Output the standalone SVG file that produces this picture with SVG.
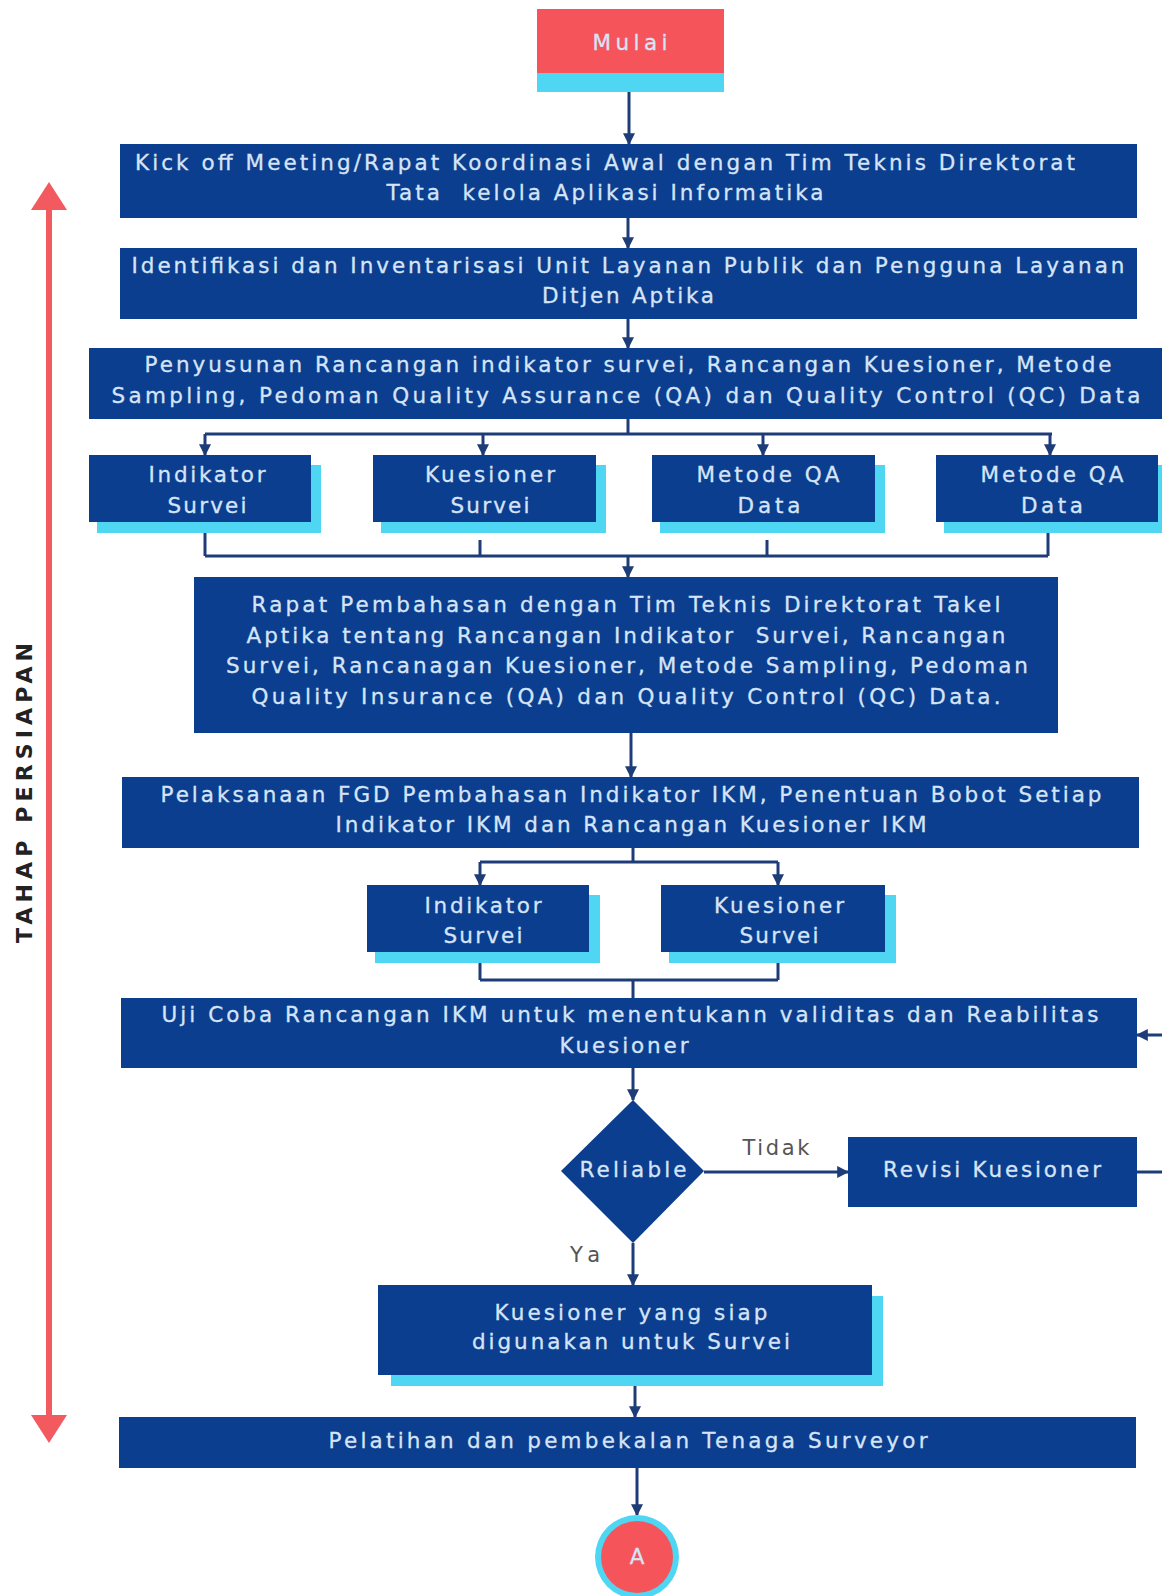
<svg xmlns="http://www.w3.org/2000/svg" width="1162" height="1596" viewBox="0 0 1162 1596">
  <defs>
    <marker id="arr" viewBox="0 0 10 10" refX="9" refY="5" markerWidth="4" markerHeight="4" orient="auto" markerUnits="strokeWidth">
      <path d="M0,0 L10,5 L0,10 Z" fill="#1d3c78"/>
    </marker>
    <style>
      .box { fill: #0b3e8e; }
      .sh { fill: #4fd6f2; }
      .t { font-family: "DejaVu Sans", "Liberation Sans", sans-serif; font-size: 21.5px; fill: #d6e4f8; text-anchor: middle; stroke: #d6e4f8; stroke-width: 0.3; }
      .lbl { font-family: "DejaVu Sans", "Liberation Sans", sans-serif; font-size: 21px; fill: #555; text-anchor: middle; }
      .c { fill: none; stroke: #1d3c78; stroke-width: 3; }
      .ca { fill: none; stroke: #1d3c78; stroke-width: 3; marker-end: url(#arr); }
    </style>
  </defs>
  <rect width="1162" height="1596" fill="#ffffff"/>

  <!-- phase bracket -->
  <g id="phase">
    <line x1="49" y1="200" x2="49" y2="1425" stroke="#f25a5f" stroke-width="6"/>
    <polygon points="49,182 31,210 67,210" fill="#f25a5f"/>
    <polygon points="49,1443 31,1415 67,1415" fill="#f25a5f"/>
    <text transform="translate(32,793) rotate(-90)" font-family="DejaVu Sans, Liberation Sans, sans-serif" font-size="22" font-weight="700" fill="#222" text-anchor="middle" textLength="300" lengthAdjust="spacing">TAHAP PERSIAPAN</text>
  </g>

  <!-- connectors -->
  <g id="connectors">
    <line class="ca" x1="629" y1="92" x2="629" y2="144"/>
    <line class="ca" x1="628" y1="218" x2="628" y2="248"/>
    <line class="ca" x1="628" y1="319" x2="628" y2="348"/>
    <line class="c" x1="628" y1="419" x2="628" y2="434"/>
    <line class="c" x1="205" y1="434" x2="1052" y2="434"/>
    <line class="ca" x1="205" y1="434" x2="205" y2="455"/>
    <line class="ca" x1="483" y1="434" x2="483" y2="455"/>
    <line class="ca" x1="763" y1="434" x2="763" y2="455"/>
    <line class="ca" x1="1050" y1="434" x2="1050" y2="455"/>
    <line class="c" x1="205" y1="533" x2="205" y2="556"/>
    <line class="c" x1="480" y1="540" x2="480" y2="556"/>
    <line class="c" x1="767" y1="540" x2="767" y2="556"/>
    <line class="c" x1="1048" y1="533" x2="1048" y2="556"/>
    <line class="c" x1="205" y1="556" x2="1048" y2="556"/>
    <line class="ca" x1="628" y1="556" x2="628" y2="577"/>
    <line class="ca" x1="631" y1="733" x2="631" y2="777"/>
    <line class="c" x1="633" y1="848" x2="633" y2="862"/>
    <line class="c" x1="480" y1="862" x2="778" y2="862"/>
    <line class="ca" x1="480" y1="862" x2="480" y2="885"/>
    <line class="ca" x1="778" y1="862" x2="778" y2="885"/>
    <line class="c" x1="480" y1="963" x2="480" y2="980"/>
    <line class="c" x1="778" y1="963" x2="778" y2="980"/>
    <line class="c" x1="480" y1="980" x2="778" y2="980"/>
    <line class="c" x1="633" y1="980" x2="633" y2="998"/>
    <line class="ca" x1="633" y1="1068" x2="633" y2="1100"/>
    <line class="ca" x1="704" y1="1172" x2="848" y2="1172"/>
    <line class="c" x1="1137" y1="1172" x2="1162" y2="1172"/>
    <line class="ca" x1="1162" y1="1035" x2="1137" y2="1035"/>
    <line class="ca" x1="633" y1="1243" x2="633" y2="1285"/>
    <line class="ca" x1="635" y1="1386" x2="635" y2="1417"/>
    <line class="ca" x1="637" y1="1468" x2="637" y2="1515"/>
  </g>

  <!-- start -->
  <g id="mulai">
    <rect x="537" y="73" width="187" height="19" class="sh"/>
    <rect x="537" y="9" width="187" height="64" fill="#f4545a"/>
    <text class="t" x="630" y="50" textLength="75" lengthAdjust="spacing">Mulai</text>
  </g>

  <g id="kickoff">
    <rect class="box" x="120" y="144" width="1017" height="74"/>
    <text class="t" x="605" y="170" textLength="940" lengthAdjust="spacing">Kick off Meeting/Rapat Koordinasi Awal dengan Tim Teknis Direktorat</text>
    <text class="t" x="605" y="200" textLength="437" lengthAdjust="spacing" xml:space="preserve">Tata  kelola Aplikasi Informatika</text>
  </g>

  <g id="identifikasi">
    <rect class="box" x="120" y="248" width="1017" height="71"/>
    <text class="t" x="628" y="273" textLength="993" lengthAdjust="spacing">Identifikasi dan Inventarisasi Unit Layanan Publik dan Pengguna Layanan</text>
    <text class="t" x="628" y="303" textLength="172" lengthAdjust="spacing">Ditjen Aptika</text>
  </g>

  <g id="penyusunan">
    <rect class="box" x="89" y="348" width="1073" height="71"/>
    <text class="t" x="628" y="372" textLength="967" lengthAdjust="spacing">Penyusunan Rancangan indikator survei, Rancangan Kuesioner, Metode</text>
    <text class="t" x="626" y="403" textLength="1029" lengthAdjust="spacing">Sampling, Pedoman Quality Assurance (QA) dan Quality Control (QC) Data</text>
  </g>

  <g id="indikator1">
    <rect class="sh" x="97" y="465" width="224" height="68"/>
    <rect class="box" x="89" y="455" width="222" height="67"/>
    <text class="t" x="207" y="482" textLength="117" lengthAdjust="spacing">Indikator</text>
    <text class="t" x="207" y="513" textLength="79" lengthAdjust="spacing">Survei</text>
  </g>
  <g id="kuesioner1">
    <rect class="sh" x="381" y="465" width="225" height="68"/>
    <rect class="box" x="373" y="455" width="223" height="67"/>
    <text class="t" x="490" y="482" textLength="130" lengthAdjust="spacing">Kuesioner</text>
    <text class="t" x="490" y="513" textLength="79" lengthAdjust="spacing">Survei</text>
  </g>
  <g id="metode1">
    <rect class="sh" x="660" y="465" width="225" height="68"/>
    <rect class="box" x="652" y="455" width="223" height="67"/>
    <text class="t" x="768" y="482" textLength="143" lengthAdjust="spacing">Metode QA</text>
    <text class="t" x="769" y="513" textLength="63" lengthAdjust="spacing">Data</text>
  </g>
  <g id="metode2">
    <rect class="sh" x="944" y="465" width="220" height="68"/>
    <rect class="box" x="936" y="455" width="222" height="67"/>
    <text class="t" x="1052" y="482" textLength="143" lengthAdjust="spacing">Metode QA</text>
    <text class="t" x="1052" y="513" textLength="62" lengthAdjust="spacing">Data</text>
  </g>

  <g id="rapat">
    <rect class="box" x="194" y="577" width="864" height="156"/>
    <text class="t" x="626" y="612" textLength="749" lengthAdjust="spacing">Rapat Pembahasan dengan Tim Teknis Direktorat Takel</text>
    <text class="t" x="626" y="643" textLength="759" lengthAdjust="spacing" xml:space="preserve">Aptika tentang Rancangan Indikator  Survei, Rancangan</text>
    <text class="t" x="627" y="673" textLength="802" lengthAdjust="spacing">Survei, Rancanagan Kuesioner, Metode Sampling, Pedoman</text>
    <text class="t" x="626" y="704" textLength="749" lengthAdjust="spacing">Quality Insurance (QA) dan Quality Control (QC) Data.</text>
  </g>

  <g id="fgd">
    <rect class="box" x="122" y="777" width="1017" height="71"/>
    <text class="t" x="631" y="802" textLength="941" lengthAdjust="spacing">Pelaksanaan FGD Pembahasan Indikator IKM, Penentuan Bobot Setiap</text>
    <text class="t" x="631" y="832" textLength="591" lengthAdjust="spacing">Indikator IKM dan Rancangan Kuesioner IKM</text>
  </g>

  <g id="indikator2">
    <rect class="sh" x="375" y="895" width="225" height="68"/>
    <rect class="box" x="367" y="885" width="222" height="67"/>
    <text class="t" x="483" y="913" textLength="117" lengthAdjust="spacing">Indikator</text>
    <text class="t" x="483" y="943" textLength="79" lengthAdjust="spacing">Survei</text>
  </g>
  <g id="kuesioner2">
    <rect class="sh" x="669" y="895" width="227" height="68"/>
    <rect class="box" x="661" y="885" width="224" height="67"/>
    <text class="t" x="779" y="913" textLength="130" lengthAdjust="spacing">Kuesioner</text>
    <text class="t" x="779" y="943" textLength="79" lengthAdjust="spacing">Survei</text>
  </g>

  <g id="ujicoba">
    <rect class="box" x="121" y="998" width="1016" height="70"/>
    <text class="t" x="630" y="1022" textLength="937" lengthAdjust="spacing">Uji Coba Rancangan IKM untuk menentukann validitas dan Reabilitas</text>
    <text class="t" x="624" y="1053" textLength="129" lengthAdjust="spacing">Kuesioner</text>
  </g>

  <g id="reliable">
    <polygon class="box" points="633,1100 704,1171 633,1243 561,1171"/>
    <text class="t" x="633" y="1177" textLength="107" lengthAdjust="spacing">Reliable</text>
  </g>
  <text class="lbl" x="776" y="1155" textLength="67" lengthAdjust="spacing">Tidak</text>
  <text class="lbl" x="585" y="1262" textLength="30" lengthAdjust="spacing">Ya</text>

  <g id="revisi">
    <rect class="box" x="848" y="1137" width="289" height="70"/>
    <text class="t" x="992" y="1177" textLength="218" lengthAdjust="spacing">Revisi Kuesioner</text>
  </g>

  <g id="siap">
    <rect class="sh" x="391" y="1296" width="492" height="90"/>
    <rect class="box" x="378" y="1285" width="494" height="90"/>
    <text class="t" x="631" y="1320" textLength="273" lengthAdjust="spacing">Kuesioner yang siap</text>
    <text class="t" x="631" y="1349" textLength="318" lengthAdjust="spacing">digunakan untuk Survei</text>
  </g>

  <g id="pelatihan">
    <rect class="box" x="119" y="1417" width="1017" height="51"/>
    <text class="t" x="628" y="1448" textLength="599" lengthAdjust="spacing">Pelatihan dan pembekalan Tenaga Surveyor</text>
  </g>

  <g id="connector-a">
    <circle cx="637" cy="1557" r="42" fill="#4fd6f2"/>
    <circle cx="637" cy="1557" r="36" fill="#f4545a"/>
    <text class="t" x="637" y="1564">A</text>
  </g>
</svg>
